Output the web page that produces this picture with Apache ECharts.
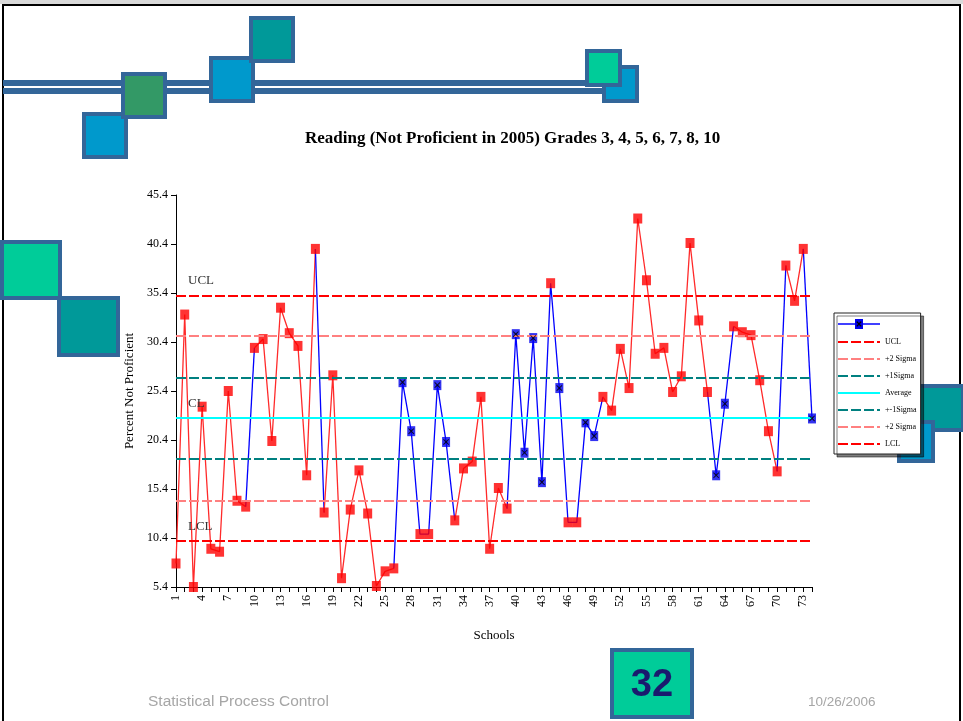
<!DOCTYPE html>
<html>
<head>
<meta charset="utf-8">
<script src="https://cdn.jsdelivr.net/npm/echarts@6/dist/echarts.min.js"></script>
<style>
  html, body { margin: 0; padding: 0; background: #fff; }
  #chart { width: 963px; height: 721px; }
</style>
</head>
<body>
<div id="chart"></div>
<script>
// School numbers along the x axis
const schools = [
  1, 2, 3, 4, 5, 6, 7, 8, 9, 10, 11, 12, 13, 14, 15, 16, 17, 18, 19, 20,
  21, 22, 23, 24, 25, 26, 27, 28, 29, 30, 31, 32, 33, 34, 35, 36, 37, 38, 39, 40,
  41, 42, 43, 44, 45, 46, 47, 48, 49, 50, 51, 52, 53, 54, 55, 56, 57, 58, 59, 60,
  61, 62, 63, 64, 65, 66, 67, 68, 69, 70, 71, 72, 73, 74
];

// Percent of students not proficient in reading, per school
const notProficient = [
  7.8, 33.2, 5.4, 23.8, 9.3, 9.0, 25.4, 14.2, 13.6, 29.8,
  30.7, 20.3, 33.9, 31.3, 30.0, 16.8, 39.9, 13.0, 27.0, 6.3,
  13.3, 17.3, 12.9, 5.5, 7.0, 7.3, 26.3, 21.3, 10.8, 10.8,
  26.0, 20.2, 12.2, 17.5, 18.2, 24.8, 9.3, 15.5, 13.4, 31.2,
  19.1, 30.8, 16.1, 36.4, 25.7, 12.0, 12.0, 22.2, 20.8, 24.8,
  23.4, 29.7, 25.7, 43.0, 36.7, 29.2, 29.8, 25.3, 26.9, 40.5,
  32.6, 25.3, 16.8, 24.1, 32.0, 31.4, 31.1, 26.5, 21.3, 17.2,
  38.2, 34.6, 39.9, 22.6
];

// Schools drawn with the blue "x" marker (all others use the red square)
const blueMarkerSchools = [27, 28, 31, 32, 40, 41, 42, 43, 45, 48, 49, 63, 64, 74];

// Line segments drawn in blue, given by the school the segment starts from
const blueSegmentStarts = [9, 17, 26, 27, 28, 29, 30, 31, 32, 39, 40, 41, 42, 43, 44, 45, 46, 47, 48, 49, 62, 63, 64, 70, 73];

// Value axis tick labels
const yTicks = [5.4, 10.4, 15.4, 20.4, 25.4, 30.4, 35.4, 40.4, 45.4];

// Control limits: UCL, +2 sigma, +1 sigma, average, -1 sigma, -2 sigma, LCL
const limitKeys   = ['ucl', 'p2', 'p1', 'avg', 'm1', 'm2', 'lcl'];
const limitLabels = ['UCL', '+2 Sigma', '+1Sigma', 'Average', '+-1Sigma', '+2 Sigma', 'LCL'];
const limitValues = [35.17, 30.99, 26.80, 22.62, 18.44, 14.25, 10.07];

const SERIF = '"Liberation Serif", "Times New Roman", serif';
const SANS = '"Liberation Sans", Arial, sans-serif';

const limitStyles = {
  ucl: { color: '#ff0000', type: [10, 3], width: 2 },
  p2:  { color: '#ff8080', type: [10, 3], width: 2 },
  p1:  { color: '#008080', type: [10, 3], width: 2 },
  avg: { color: '#00ffff', type: 'solid', width: 2 },
  m1:  { color: '#008080', type: [10, 3], width: 2 },
  m2:  { color: '#ff8080', type: [10, 3], width: 2 },
  lcl: { color: '#ff0000', type: [10, 3], width: 2 }
};

// Text printed at the left / right ends of the three main limits
const limitTags = { ucl: 'UCL', avg: 'CL', lcl: 'LCL' };

const series = [];

// Control limit lines
limitKeys.forEach((key, k) => {
  const v = limitValues[k];
  const markData = [{ yAxis: v }];
  if (limitTags[key]) {
    markData[0].label = {
      show: true, position: 'insideStartTop', formatter: limitTags[key],
      distance: [12, 8], fontFamily: SERIF, fontSize: 13, color: '#333'
    };
    markData.push({
      yAxis: v,
      lineStyle: { opacity: 0 },
      label: {
        show: true, position: 'insideEndTop', formatter: v.toFixed(2),
        distance: [-17, 8], fontFamily: SERIF, fontSize: 13, color: '#333'
      }
    });
  }
  series.push({
    name: key,
    type: 'line',
    data: [],
    symbol: 'none',
    lineStyle: limitStyles[key],
    itemStyle: { color: limitStyles[key].color },
    z: 2,
    markLine: {
      silent: true,
      symbol: 'none',
      animation: false,
      lineStyle: limitStyles[key],
      label: { show: false },
      data: markData
    }
  });
});

// Data line, split into runs of equally coloured segments
const segColor = i => blueSegmentStarts.includes(schools[i]) ? '#0000ff' : '#ff2a2a';
let runStart = 0;
for (let i = 1; i <= notProficient.length - 1; i++) {
  const endOfRun = (i === notProficient.length - 1) || segColor(i) !== segColor(runStart);
  if (endOfRun) {
    const lastPoint = i; // run covers segments runStart .. i-1
    const data = notProficient.map((v, j) => (j >= runStart && j <= lastPoint ? v : null));
    series.push({
      type: 'line', data, symbol: 'none', showSymbol: false, connectNulls: false,
      silent: true, z: 3,
      lineStyle: { color: segColor(runStart), width: 1.3 }
    });
    runStart = i;
  }
}

// Markers
const isBlue = i => blueMarkerSchools.includes(schools[i]);
const redPts = [], bluePts = [];
notProficient.forEach((v, i) => (isBlue(i) ? bluePts : redPts).push([i, v]));

series.push({
  name: 'redMarks', type: 'scatter', data: redPts, symbol: 'rect',
  symbolSize: [9, 10], itemStyle: { color: '#ff0000' }, z: 4, silent: true
});
series.push({
  name: 'Schools', type: 'scatter', data: bluePts, symbol: 'rect',
  symbolSize: [8, 10], itemStyle: { color: '#0000ee' }, z: 4, silent: true
});
series.push({
  name: 'xMarks', type: 'scatter', data: bluePts,
  symbol: 'path://M1,0 L5,3.6 L9,0 L10,1 L6.4,5 L10,9 L9,10 L5,6.4 L1,10 L0,9 L3.6,5 L0,1 Z',
  symbolSize: [6, 6], itemStyle: { color: '#000' }, z: 5, silent: true
});

// Legend icon for the school series: blue line with the blue "x" marker
const schoolIcon = 'image://data:image/svg+xml;charset=utf-8,' + encodeURIComponent(
  "<svg xmlns='http://www.w3.org/2000/svg' width='42' height='10' viewBox='0 0 42 10'>" +
  "<line x1='0' y1='5' x2='42' y2='5' stroke='#0000ff' stroke-width='1.5'/>" +
  "<rect x='17' y='0' width='8' height='10' fill='#0000ee'/>" +
  "<path d='M18.8 2.6 L23.2 7.4 M23.2 2.6 L18.8 7.4' stroke='#000' stroke-width='1.4'/>" +
  "</svg>");

const legendText = { Schools: '' };
limitKeys.forEach((k, i) => { legendText[k] = limitLabels[i]; });

// Slide decoration blocks
function block(x, y, w, h, fill, z) {
  return {
    type: 'rect', z: z || 0,
    shape: { x: x + 2, y: y + 2, width: w - 4, height: h - 4 },
    style: { fill, stroke: '#336699', lineWidth: 4 }
  };
}

const graphics = [
  { type: 'rect', z: 0, shape: { x: 3, y: 5, width: 957, height: 740 },
    style: { fill: 'none', stroke: '#000', lineWidth: 2 } },
  { type: 'rect', z: 0, shape: { x: 0, y: 0, width: 963, height: 4 }, style: { fill: '#d9d9d9' } },
  { type: 'rect', z: 0, shape: { x: 3, y: 80, width: 611, height: 6 }, style: { fill: '#336699' } },
  { type: 'rect', z: 0, shape: { x: 3, y: 88, width: 611, height: 6 }, style: { fill: '#336699' } },
  block(82, 112, 46, 47, '#0099cc', 1),
  block(121, 72, 46, 47, '#339966', 1),
  block(209, 56, 46, 47, '#0099cc', 1),
  block(249, 16, 46, 47, '#009999', 1),
  block(602, 65, 37, 38, '#0099cc', 1),
  block(585, 49, 37, 38, '#00cc99', 2),
  block(0, 240, 62, 60, '#00cc99', 1),
  block(57, 296, 63, 61, '#009999', 2),
  block(913, 384, 52, 48, '#009999', 1),
  block(897, 420, 38, 43, '#0099cc', 1),
  block(610, 648, 84, 71, '#00cc99', 1),
  { type: 'text', z: 3, x: 652, y: 686,
    style: { text: '32', fill: '#1a1a6e', font: 'bold 38px ' + SANS, align: 'center', verticalAlign: 'middle' } },
  { type: 'text', z: 3, x: 148, y: 702,
    style: { text: 'Statistical Process Control', fill: '#a6a6a6', font: '15.5px ' + SANS, verticalAlign: 'middle' } },
  { type: 'text', z: 3, x: 808, y: 702,
    style: { text: '10/26/2006', fill: '#a6a6a6', font: '13.5px ' + SANS, verticalAlign: 'middle' } }
];

const chart = echarts.init(document.getElementById('chart'), null, { renderer: 'canvas' });
chart.setOption({
  animation: false,
  backgroundColor: '#fff',
  title: {
    text: 'Reading (Not Proficient in 2005) Grades 3, 4, 5, 6, 7, 8, 10',
    left: 305, top: 130, padding: 0,
    textStyle: { fontFamily: SERIF, fontWeight: 'bold', fontSize: 17, color: '#000' }
  },
  graphic: graphics,
  grid: { left: 176, right: 151, top: 195, bottom: 134 },
  legend: {
    orient: 'vertical', left: 834, top: 313,
    itemWidth: 42, itemHeight: 10, itemGap: 9,
    padding: [6, 4, 6, 3],
    backgroundColor: '#fff', borderColor: '#222', borderWidth: 1,
    shadowColor: 'rgba(0,0,0,0.5)', shadowOffsetX: 3, shadowOffsetY: 3, shadowBlur: 0,
    selectedMode: false, z: 6,
    itemStyle: { opacity: 0 },
    textStyle: { fontFamily: SERIF, fontSize: 8, color: '#000' },
    formatter: name => legendText[name],
    data: [{ name: 'Schools', icon: schoolIcon, itemStyle: { opacity: 1 } }].concat(limitKeys)
  },
  xAxis: {
    type: 'category', data: schools, boundaryGap: false,
    name: 'Schools', nameLocation: 'middle', nameGap: 42,
    nameTextStyle: { fontFamily: SERIF, fontSize: 13, color: '#000' },
    axisLine: { lineStyle: { color: '#000', width: 1 } },
    axisTick: { interval: 0, length: 5, lineStyle: { color: '#000' } },
    axisLabel: { interval: 2, rotate: 90, margin: 8, fontFamily: SERIF, fontSize: 12, color: '#000' },
    splitLine: { show: false }
  },
  yAxis: {
    type: 'value', min: 5.4, max: 45.4,
    name: 'Percent Not Proficient', nameLocation: 'middle', nameGap: 37,
    nameTextStyle: { fontFamily: SERIF, fontSize: 13, color: '#000' },
    axisLine: { show: true, lineStyle: { color: '#000', width: 1 } },
    axisTick: { show: true, length: 5, customValues: yTicks, lineStyle: { color: '#000' } },
    axisLabel: { customValues: yTicks, margin: 8, fontFamily: SERIF, fontSize: 12, color: '#000',
                 formatter: v => Number(v).toFixed(1) },
    splitLine: { show: false }
  },
  series
});
</script>
</body>
</html>
